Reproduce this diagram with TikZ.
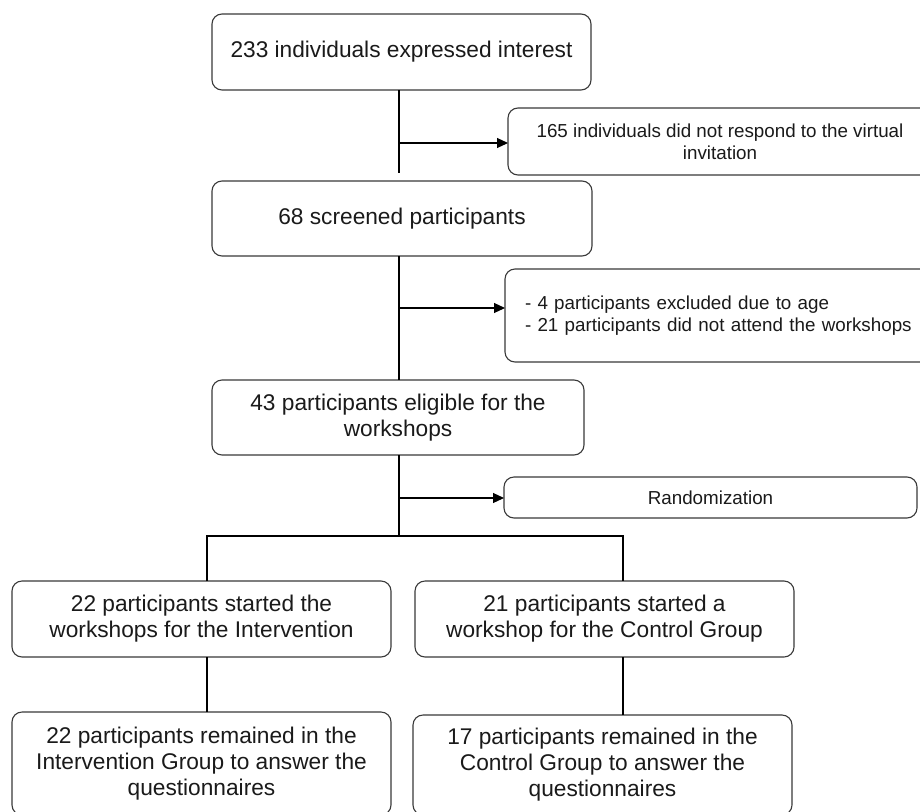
\documentclass[tikz,border=0pt]{standalone}
\usepackage{fontspec}
\setmainfont{Liberation Sans}
\usetikzlibrary{arrows.meta}
\definecolor{edgegray}{HTML}{3A3A3A}
\definecolor{txt}{HTML}{1A1A1A}
\begin{document}
\begin{tikzpicture}[x=1pt,y=-1pt,
  boxbase/.style={draw=edgegray,line width=1.1pt,rounded corners=10pt,inner sep=0pt,outer sep=0pt,text=txt},
  bigbox/.style={boxbase,align=center,font=\fontsize{22.7}{26}\selectfont},
  smallbox/.style={boxbase,align=center,font=\fontsize{18.8}{22}\selectfont},
  conn/.style={draw=black,line width=1.1pt},
  arr/.style={conn,-{Triangle[length=11pt,width=10pt]}}]
\useasboundingbox (0,0) rectangle (920,811);
\clip (0,0) rectangle (920,811);
\fill[white] (0,0) rectangle (920,811);

\node[bigbox,minimum width=379pt,minimum height=76pt] (n1) at (401.5,52) {233 individuals expressed interest};
\node[smallbox,minimum width=424pt,minimum height=67pt] (n2) at (720,141.5) {165 individuals did not respond to the virtual\\invitation};
\node[bigbox,minimum width=380pt,minimum height=75pt] (n3) at (402,218.5) {68 screened participants};
\node[boxbase,font=\fontsize{18.8}{22}\selectfont,align=left,text width=387pt,inner xsep=20pt,minimum height=93pt] (n4) at (718.5,315.5) {- 4 participants excluded due to age\\- 21 participants did not attend the workshops};
\node[bigbox,minimum width=372pt,minimum height=75pt] (n5) at (398,417.5) {43 participants eligible for the\\workshops};
\node[smallbox,minimum width=413pt,minimum height=41pt] (n6) at (710.5,497.5) {Randomization};
\node[bigbox,minimum width=379pt,minimum height=76pt] (n7) at (201.5,619) {22 participants started the\\workshops for the Intervention};
\node[bigbox,minimum width=379pt,minimum height=76pt] (n8) at (604.5,619) {21 participants started a\\workshop for the Control Group};
\node[bigbox,minimum width=379pt,minimum height=103pt] (n9) at (201.5,763.5) {22 participants remained in the\\Intervention Group to answer the\\questionnaires};
\node[bigbox,minimum width=379pt,minimum height=100pt] (n10) at (602.5,765) {17 participants remained in the\\Control Group to answer the\\questionnaires};

\coordinate (a1) at (399,143);
\coordinate (a2) at (399,308);
\coordinate (a3) at (399,498);
\coordinate (a4) at (399,536);
\coordinate (l) at (207,536);
\coordinate (r) at (623,536);

\draw[conn] (n1.south -| a1) -- ([yshift=8pt]n3.north -| a1);
\draw[arr] (a1) -- (a1 -| n2.west);
\draw[conn] (n3.south -| a1) -- (n5.north -| a1);
\draw[arr] (a2) -- (a2 -| n4.west);
\draw[conn] (n5.south -| a1) -- (a4);
\draw[arr] (a3) -- (a3 -| n6.west);
\draw[conn] (n7.north -| l) -- (l) -- (r) -- (n8.north -| r);
\draw[conn] (n7.south -| l) -- (n9.north -| l);
\draw[conn] (n8.south -| r) -- (n10.north -| r);
\end{tikzpicture}
\end{document}
